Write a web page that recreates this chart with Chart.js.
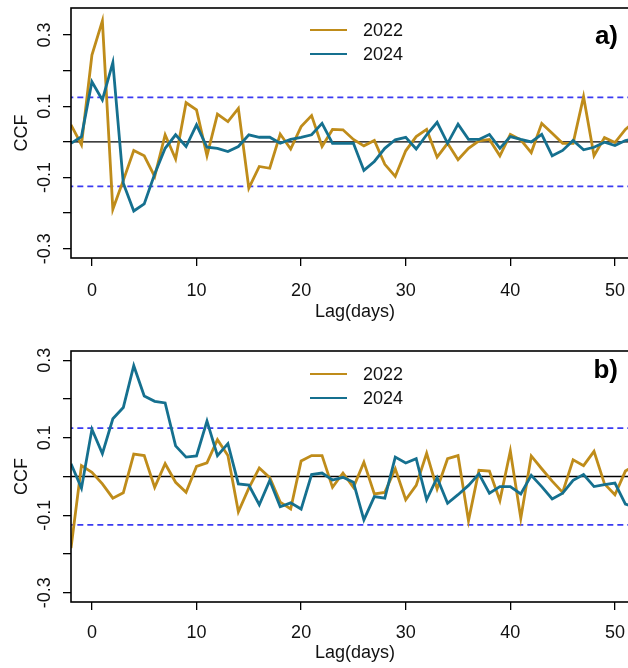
<!DOCTYPE html>
<html><head><meta charset="utf-8">
<script src="https://cdn.jsdelivr.net/npm/chart.js@4"></script>
<style>
html,body{margin:0;padding:0;background:#fff;overflow:hidden;width:628px;height:668px}
canvas{display:block}
</style></head><body>
<canvas id="a" width="640" height="334"></canvas>
<canvas id="b" width="640" height="334"></canvas>
<script>
// ---- data ----
const lags = [-2,-1,0,1,2,3,4,5,6,7,8,9,10,11,12,13,14,15,16,17,18,19,20,21,22,23,24,25,26,27,28,29,30,31,32,33,34,35,36,37,38,39,40,41,42,43,44,45,46,47,48,49,50,51,52];
const seriesNames = ['2022','2024'];
const ccfA2022 = [0.048,-0.008,0.244,0.340,-0.189,-0.108,-0.024,-0.039,-0.097,0.020,-0.048,0.110,0.090,-0.039,0.078,0.057,0.094,-0.130,-0.069,-0.074,0.022,-0.020,0.043,0.074,-0.013,0.035,0.034,0.007,-0.011,0.004,-0.063,-0.097,-0.025,0.015,0.035,-0.043,-0.004,-0.050,-0.018,0.003,0.007,-0.039,0.021,0.006,-0.030,0.052,0.024,-0.004,-0.004,0.127,-0.039,0.012,-0.002,0.035,0.060];
const ccfA2024 = [-0.004,0.015,0.169,0.118,0.223,-0.116,-0.194,-0.174,-0.090,-0.018,0.020,-0.013,0.048,-0.015,-0.018,-0.027,-0.013,0.020,0.013,0.013,-0.004,0.007,0.013,0.020,0.052,-0.004,-0.004,-0.004,-0.080,-0.055,-0.018,0.006,0.013,-0.020,0.020,0.055,-0.004,0.050,0.007,0.007,0.021,-0.018,0.015,0.007,0.000,0.021,-0.039,-0.024,0.004,-0.022,-0.015,-0.001,-0.010,0.004,0.010];
const ccfB2022 = [-0.185,0.028,0.011,-0.019,-0.056,-0.042,0.058,0.054,-0.028,0.033,-0.015,-0.041,0.026,0.035,0.095,0.054,-0.091,-0.030,0.022,-0.003,-0.066,-0.084,0.040,0.054,0.054,-0.028,0.009,-0.028,0.037,-0.045,-0.041,0.020,-0.060,-0.023,0.060,-0.032,0.046,0.054,-0.114,0.016,0.014,-0.062,0.066,-0.108,0.053,0.020,-0.012,-0.041,0.043,0.028,0.065,-0.019,-0.047,0.014,0.030];
const ccfB2024 = [0.033,-0.030,0.122,0.059,0.149,0.178,0.286,0.208,0.194,0.190,0.079,0.050,0.053,0.143,0.054,0.085,-0.019,-0.022,-0.073,-0.010,-0.078,-0.068,-0.084,0.005,0.009,-0.009,-0.002,-0.015,-0.112,-0.052,-0.056,0.050,0.035,0.046,-0.060,-0.003,-0.069,-0.047,-0.023,0.007,-0.043,-0.026,-0.026,-0.045,0.003,-0.026,-0.058,-0.043,-0.010,0.005,-0.026,-0.021,-0.017,-0.071,-0.080];
const ciA = 0.125;
const ciB = 0.125;
const xTicks = [0,10,20,30,40,50];
const yTicks = [-0.3,-0.2,-0.1,0,0.1,0.2,0.3];
const yLabelTicks = [-0.3,-0.1,0.1,0.3];
const panelLabels = ['a)','b)'];
const xTitle = 'Lag(days)';
const yTitle = 'CCF';

// ---- style ----
const FONT = "'Liberation Sans', Arial, sans-serif";
const GOLD = '#BF8C1A';
const TEAL = '#15708F';
const BLUE = '#3B3BF2';
const TXT = '#111';

function makeData(s2022, s2024, ci) {
  const pts = arr => lags.map((l, i) => ({x: l, y: arr[i]}));
  const hline = v => [{x: -10, y: v}, {x: 70, y: v}];
  return {datasets: [
    {label: seriesNames[1], data: pts(s2024), borderColor: TEAL, borderWidth: 2.8, pointRadius: 0, order: 0, clip: 0},
    {label: seriesNames[0], data: pts(s2022), borderColor: GOLD, borderWidth: 2.8, pointRadius: 0, order: 1, clip: 0},
    {label: 'zero', data: hline(0), borderColor: '#000', borderWidth: 1.3, pointRadius: 0, order: 2, clip: 0},
    {label: 'upper', data: hline(ci), borderColor: BLUE, borderDash: [6, 4], borderWidth: 1.6, pointRadius: 0, order: 2, clip: 0},
    {label: 'lower', data: hline(-ci), borderColor: BLUE, borderDash: [6, 4], borderWidth: 1.6, pointRadius: 0, order: 2, clip: 0}
  ]};
}

function decor(cfg) {
  return {
    id: 'decor',
    afterDraw(chart) {
      const ctx = chart.ctx, ca = chart.chartArea, ys = chart.scales.y;
      ctx.save();
      // box
      ctx.strokeStyle = '#000'; ctx.lineWidth = 1.6;
      ctx.strokeRect(ca.left, ca.top, ca.right - ca.left, ca.bottom - ca.top);
      // rotated y tick labels
      ctx.fillStyle = TXT;
      ctx.font = '18px ' + FONT;
      ctx.textAlign = 'center'; ctx.textBaseline = 'alphabetic';
      yLabelTicks.forEach(v => {
        const py = ys.getPixelForValue(v);
        ctx.save(); ctx.translate(50, py); ctx.rotate(-Math.PI / 2);
        ctx.fillText(v.toFixed(1), 0, 0); ctx.restore();
      });
      // legend
      const cols = [GOLD, TEAL];
      cfg.legendY.forEach((ly, i) => {
        ctx.strokeStyle = cols[i]; ctx.lineWidth = 2.2; ctx.setLineDash([]);
        ctx.beginPath(); ctx.moveTo(310, ly); ctx.lineTo(347, ly); ctx.stroke();
        ctx.fillStyle = TXT; ctx.textAlign = 'left'; ctx.textBaseline = 'middle';
        ctx.font = '18px ' + FONT;
        ctx.fillText(seriesNames[i], 363, ly + 1);
      });
      // panel label
      ctx.font = 'bold 26px ' + FONT; ctx.textAlign = 'right'; ctx.textBaseline = 'alphabetic';
      ctx.fillStyle = '#000';
      ctx.fillText(cfg.label, 618, 44);
      ctx.restore();
    }
  };
}

function makeChart(id, s2022, s2024, ci, cfg) {
  const gridOpts = {drawOnChartArea: false, drawTicks: true, tickLength: 8, color: '#000', lineWidth: 1.3};
  return new Chart(document.getElementById(id), {
    type: 'line',
    data: makeData(s2022, s2024, ci),
    options: {
      responsive: false, animation: false, devicePixelRatio: 1,
      layout: {padding: {top: cfg.top, left: 0, right: 1, bottom: 0}},
      plugins: {legend: {display: false}, tooltip: {enabled: false}},
      elements: {line: {tension: 0}},
      scales: {
        x: {
          type: 'linear', min: -2, max: 52.3,
          afterBuildTicks: s => { s.ticks = xTicks.map(v => ({value: v})); },
          afterFit: s => { s.height = cfg.xh; },
          grid: gridOpts, border: {display: false},
          ticks: {font: {family: FONT, size: 18}, color: TXT, padding: cfg.tp, maxRotation: 0, autoSkip: false},
          title: {display: true, text: xTitle, font: {family: FONT, size: 18}, color: TXT, padding: {top: 0, bottom: cfg.pb}}
        },
        y: {
          type: 'linear', min: cfg.ymin, max: cfg.ymax,
          afterBuildTicks: s => { s.ticks = yTicks.map(v => ({value: v})); },
          afterFit: s => { s.width = 71; },
          grid: gridOpts, border: {display: false},
          ticks: {display: false},
          title: {display: true, text: yTitle, font: {family: FONT, size: 18}, color: TXT, padding: {top: 11.7, bottom: 0}}
        }
      }
    },
    plugins: [decor(cfg)]
  });
}

makeChart('a', ccfA2022, ccfA2024, ciA,
  {top: 8, xh: 76, tp: 14, pb: 11, ymin: -0.326, ymax: 0.376, legendY: [30, 54], label: panelLabels[0]});
makeChart('b', ccfB2022, ccfB2024, ciB,
  {top: 17, xh: 66, tp: 12.5, pb: 4.5, ymin: -0.324, ymax: 0.324, legendY: [40, 64], label: panelLabels[1]});
</script>
</body></html>
